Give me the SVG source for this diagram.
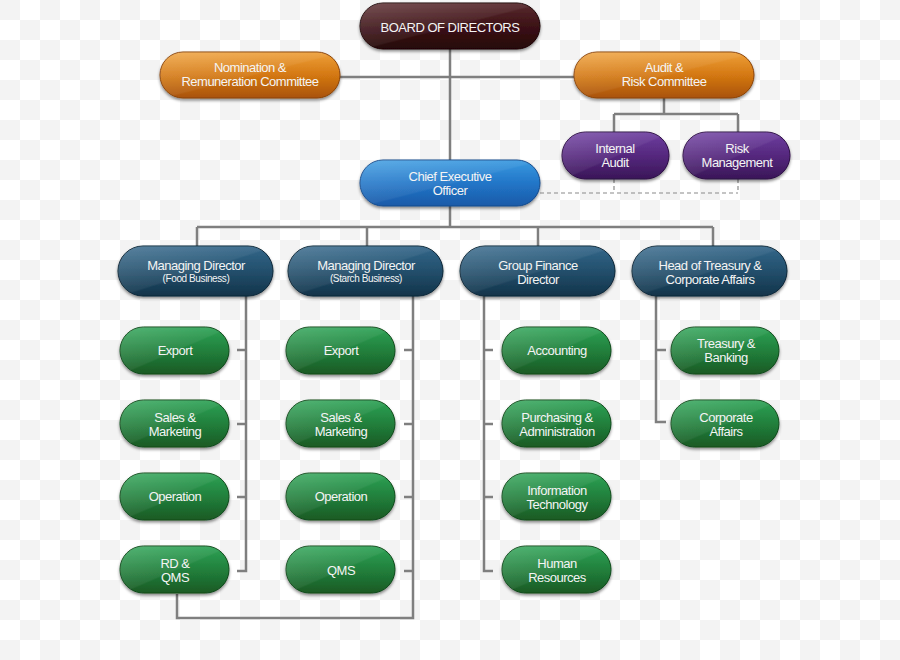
<svg xmlns="http://www.w3.org/2000/svg" width="900" height="660" viewBox="0 0 900 660">
<defs>
<linearGradient id="gBoard" x1="0" y1="0" x2="0" y2="1"><stop offset="0" stop-color="#5a2a2e"/><stop offset="0.5" stop-color="#3c1216"/><stop offset="1" stop-color="#260709"/></linearGradient>
<linearGradient id="gOrange" x1="0" y1="0" x2="0" y2="1"><stop offset="0" stop-color="#eea03a"/><stop offset="0.5" stop-color="#d47812"/><stop offset="1" stop-color="#a9530a"/></linearGradient>
<linearGradient id="gPurple" x1="0" y1="0" x2="0" y2="1"><stop offset="0" stop-color="#6e3ea0"/><stop offset="0.5" stop-color="#55287e"/><stop offset="1" stop-color="#3a1658"/></linearGradient>
<linearGradient id="gBlue" x1="0" y1="0" x2="0" y2="1"><stop offset="0" stop-color="#3a9ae0"/><stop offset="0.5" stop-color="#2276c8"/><stop offset="1" stop-color="#1a5aa8"/></linearGradient>
<linearGradient id="gTeal" x1="0" y1="0" x2="0" y2="1"><stop offset="0" stop-color="#33678a"/><stop offset="0.5" stop-color="#234f6c"/><stop offset="1" stop-color="#12344a"/></linearGradient>
<linearGradient id="gGreen" x1="0" y1="0" x2="0" y2="1"><stop offset="0" stop-color="#2ea356"/><stop offset="0.5" stop-color="#21803c"/><stop offset="1" stop-color="#1a5a24"/></linearGradient>
<linearGradient id="gGloss" x1="0" y1="0" x2="1" y2="1"><stop offset="0" stop-color="#ffffff" stop-opacity="0.18"/><stop offset="0.5" stop-color="#ffffff" stop-opacity="0.06"/><stop offset="0.52" stop-color="#ffffff" stop-opacity="0"/><stop offset="1" stop-color="#ffffff" stop-opacity="0"/></linearGradient>
<filter id="sh" x="-10%" y="-20%" width="120%" height="150%"><feDropShadow dx="0" dy="2" stdDeviation="1.5" flood-color="#000" flood-opacity="0.45"/></filter>
<pattern id="chk" width="40" height="40" patternUnits="userSpaceOnUse"><rect width="40" height="40" fill="#ffffff"/><rect width="20" height="20" fill="#f3f3f3"/><rect x="20" y="20" width="20" height="20" fill="#f3f3f3"/></pattern>
</defs>
<style>
.n{filter:url(#sh);stroke-width:1}
.gl{fill:url(#gGloss);stroke:none}
.board{fill:url(#gBoard);stroke:#1c0405}
.orange{fill:url(#gOrange);stroke:#8a4206}
.purple{fill:url(#gPurple);stroke:#2c0e44}
.blue{fill:url(#gBlue);stroke:#134a8c}
.teal{fill:url(#gTeal);stroke:#0c2638}
.green{fill:url(#gGreen);stroke:#114a1a}
text{font-family:"Liberation Sans","DejaVu Sans",sans-serif;fill:#f4f4f4;text-anchor:middle;font-size:13px;letter-spacing:-0.5px}
.sm{font-size:10px;letter-spacing:-0.4px}
.ln{fill:none;stroke:#7f7f7f;stroke-width:2.5}
.ds{fill:none;stroke:#8a8a8a;stroke-width:1.2;stroke-dasharray:4 3}
</style>
<rect width="900" height="660" fill="url(#chk)"/>
<g id="connectors">
<path class="ln" d="M450 49V160M340 77H574"/>
<path class="ln" d="M664 98V114M614 114H738M614 114V132M738 114V132"/>
<path class="ds" d="M614 179V193M738 179V193M540 193H738"/>
<path class="ln" d="M450 206V227M197 227H713M197 227V246M367 227V246M538 227V246M713 227V246"/>
<path class="ln" d="M246 296V571H237M237 350H246M237 424H246M237 497H246"/>
<path class="ln" d="M413 296V618H177V594M404 350H413M404 424H413M404 497H413M404 571H413"/>
<path class="ln" d="M484 296V571H493M484 350H493M484 424H493M484 497H493"/>
<path class="ln" d="M656 296V422H666M656 350H666"/>
</g>
<g id="board"><rect class="n board" x="360" y="3" width="180" height="46" rx="23"/><rect class="gl" x="360" y="3" width="180" height="46" rx="23"/><text x="450" y="32">BOARD OF DIRECTORS</text></g>
<g id="nomination"><rect class="n orange" x="160" y="52" width="180" height="46" rx="23"/><rect class="gl" x="160" y="52" width="180" height="46" rx="23"/><text x="250" y="72">Nomination &amp;</text><text x="250" y="86">Remuneration Committee</text></g>
<g id="audit-risk"><rect class="n orange" x="574" y="52" width="180" height="46" rx="23"/><rect class="gl" x="574" y="52" width="180" height="46" rx="23"/><text x="664" y="72">Audit &amp;</text><text x="664" y="86">Risk Committee</text></g>
<g id="internal-audit"><rect class="n purple" x="562" y="132" width="107" height="47" rx="23.5"/><rect class="gl" x="562" y="132" width="107" height="47" rx="23.5"/><text x="615" y="153">Internal</text><text x="615" y="167">Audit</text></g>
<g id="risk-management"><rect class="n purple" x="683" y="132" width="107" height="47" rx="23.5"/><rect class="gl" x="683" y="132" width="107" height="47" rx="23.5"/><text x="737" y="153">Risk</text><text x="737" y="167">Management</text></g>
<g id="ceo"><rect class="n blue" x="360" y="160" width="180" height="46" rx="23"/><rect class="gl" x="360" y="160" width="180" height="46" rx="23"/><text x="450" y="181">Chief Executive</text><text x="450" y="195">Officer</text></g>
<g id="md-food"><rect class="n teal" x="118" y="246" width="155" height="50" rx="25"/><rect class="gl" x="118" y="246" width="155" height="50" rx="25"/><text x="196" y="270">Managing Director</text><text class="sm" x="196" y="282">(Food Business)</text></g>
<g id="md-starch"><rect class="n teal" x="288" y="246" width="155" height="50" rx="25"/><rect class="gl" x="288" y="246" width="155" height="50" rx="25"/><text x="366" y="270">Managing Director</text><text class="sm" x="366" y="282">(Starch Business)</text></g>
<g id="finance-director"><rect class="n teal" x="460" y="246" width="155" height="50" rx="25"/><rect class="gl" x="460" y="246" width="155" height="50" rx="25"/><text x="538" y="270">Group Finance</text><text x="538" y="284">Director</text></g>
<g id="head-treasury"><rect class="n teal" x="632" y="246" width="155" height="50" rx="25"/><rect class="gl" x="632" y="246" width="155" height="50" rx="25"/><text x="710" y="270">Head of Treasury &amp;</text><text x="710" y="284">Corporate Affairs</text></g>
<g id="food-export"><rect class="n green" x="120" y="327" width="109" height="47" rx="23.5"/><rect class="gl" x="120" y="327" width="109" height="47" rx="23.5"/><text x="175" y="355">Export</text></g>
<g id="food-sales"><rect class="n green" x="120" y="400" width="109" height="47" rx="23.5"/><rect class="gl" x="120" y="400" width="109" height="47" rx="23.5"/><text x="175" y="422">Sales &amp;</text><text x="175" y="436">Marketing</text></g>
<g id="food-operation"><rect class="n green" x="120" y="473" width="109" height="47" rx="23.5"/><rect class="gl" x="120" y="473" width="109" height="47" rx="23.5"/><text x="175" y="501">Operation</text></g>
<g id="food-rdqms"><rect class="n green" x="120" y="546" width="109" height="47" rx="23.5"/><rect class="gl" x="120" y="546" width="109" height="47" rx="23.5"/><text x="175" y="568">RD &amp;</text><text x="175" y="582">QMS</text></g>
<g id="starch-export"><rect class="n green" x="286" y="327" width="109" height="47" rx="23.5"/><rect class="gl" x="286" y="327" width="109" height="47" rx="23.5"/><text x="341" y="355">Export</text></g>
<g id="starch-sales"><rect class="n green" x="286" y="400" width="109" height="47" rx="23.5"/><rect class="gl" x="286" y="400" width="109" height="47" rx="23.5"/><text x="341" y="422">Sales &amp;</text><text x="341" y="436">Marketing</text></g>
<g id="starch-operation"><rect class="n green" x="286" y="473" width="109" height="47" rx="23.5"/><rect class="gl" x="286" y="473" width="109" height="47" rx="23.5"/><text x="341" y="501">Operation</text></g>
<g id="starch-qms"><rect class="n green" x="286" y="546" width="109" height="47" rx="23.5"/><rect class="gl" x="286" y="546" width="109" height="47" rx="23.5"/><text x="341" y="575">QMS</text></g>
<g id="accounting"><rect class="n green" x="502" y="327" width="109" height="47" rx="23.5"/><rect class="gl" x="502" y="327" width="109" height="47" rx="23.5"/><text x="557" y="355">Accounting</text></g>
<g id="purchasing"><rect class="n green" x="502" y="400" width="109" height="47" rx="23.5"/><rect class="gl" x="502" y="400" width="109" height="47" rx="23.5"/><text x="557" y="422">Purchasing &amp;</text><text x="557" y="436">Administration</text></g>
<g id="it"><rect class="n green" x="502" y="473" width="109" height="47" rx="23.5"/><rect class="gl" x="502" y="473" width="109" height="47" rx="23.5"/><text x="557" y="495">Information</text><text x="557" y="509">Technology</text></g>
<g id="hr"><rect class="n green" x="502" y="546" width="109" height="47" rx="23.5"/><rect class="gl" x="502" y="546" width="109" height="47" rx="23.5"/><text x="557" y="568">Human</text><text x="557" y="582">Resources</text></g>
<g id="treasury-banking"><rect class="n green" x="671" y="327" width="108" height="47" rx="23.5"/><rect class="gl" x="671" y="327" width="108" height="47" rx="23.5"/><text x="726" y="348">Treasury &amp;</text><text x="726" y="362">Banking</text></g>
<g id="corporate-affairs"><rect class="n green" x="671" y="400" width="108" height="47" rx="23.5"/><rect class="gl" x="671" y="400" width="108" height="47" rx="23.5"/><text x="726" y="422">Corporate</text><text x="726" y="436">Affairs</text></g>
</svg>
